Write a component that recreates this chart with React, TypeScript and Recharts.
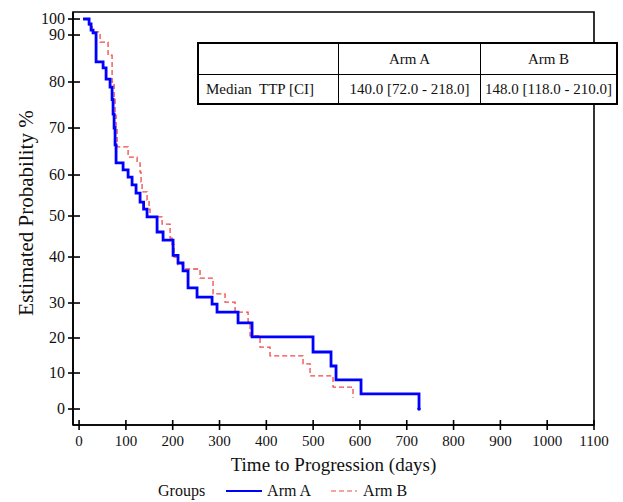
import { LineChart, Line, XAxis, YAxis, ReferenceArea, Label } from 'recharts'

// Kaplan-Meier steps: day of each drop and the probability after it
const armADays = [8.5, 21.4, 25.6, 29.9, 36.3, 51.3, 57.7, 66.2, 70.5, 72.6, 74.8, 76.9, 79.0, 94, 104.7, 113.2, 121.7, 130.3, 137.8, 145.2, 166.6, 179.4, 200.8, 211.4, 222.1, 232.8, 252.0, 284.1, 294.7, 339.6, 369.5, 499.8, 538.2, 548.9, 602.3, 726.2]
const armAProb = [100, 96.9, 93.1, 91.3, 84.3, 83.0, 80.6, 78.9, 76.2, 73.0, 70.0, 66.4, 62.6, 61.1, 59.5, 57.6, 55.6, 53.4, 51.7, 49.8, 46.1, 44.1, 40.4, 38.7, 37.0, 33.3, 31.3, 29.7, 27.4, 24.3, 20.3, 16.0, 12.0, 8.1, 4.2, 0]

const armBDays = [8.5, 21.4, 27.8, 44.9, 61.9, 70.5, 74.8, 76.9, 79.0, 81.2, 104.7, 123.9, 130.3, 132.4, 134.6, 145.2, 149.5, 151.6, 177.3, 194.4, 198.6, 202.9, 211.4, 222.1, 258.4, 286.2, 311.8, 333.2, 361, 365.2, 386.6, 407.9, 478.4, 493.4, 542.5, 585.2]
const armBProb = [100, 96.2, 91.9, 88.5, 85.7, 80.0, 76.2, 72.8, 70.0, 66.0, 63.8, 62.6, 60.6, 58.3, 55.9, 53.9, 51.7, 49.8, 48.0, 44.6, 43.0, 40.0, 38.3, 37.4, 35.4, 32.0, 30.2, 27.4, 24.6, 20.6, 17.4, 14.9, 12.6, 9.2, 6.1, 3.1]

const dayTicks = [0, 100, 200, 300, 400, 500, 600, 700, 800, 900, 1000, 1100]
const probTicks = [0, 10, 20, 30, 40, 50, 60, 70, 80, 90, 100]
// the original y axis is not linear; where each probability tick sits on it
const probAxisStops = [0, 9.23, 18.21, 27.18, 38.97, 49.49, 60.0, 72.05, 83.85, 95.9, 100]

const tableHeader = ['', 'Arm A', 'Arm B']
const tableRow = ['Median  TTP [CI]', '140.0 [72.0 - 218.0]', '148.0 [118.0 - 210.0]']

const xDomain: [number, number] = [-13, 1100]
const yDomain: [number, number] = [-4.1, 101.8]

function toAxis(p: number) {
  for (let i = 1; i < probTicks.length; i++) {
    if (p <= probTicks[i]) {
      const t = (p - probTicks[i - 1]) / (probTicks[i] - probTicks[i - 1])
      return probAxisStops[i - 1] + t * (probAxisStops[i] - probAxisStops[i - 1])
    }
  }
  return probAxisStops[probAxisStops.length - 1]
}

const armA = armADays.map((day, i) => ({ day, y: toAxis(armAProb[i]) }))
const armB = armBDays.map((day, i) => ({ day, y: toAxis(armBProb[i]) }))

const font = '"Liberation Serif", "Times New Roman", serif'

function YTick(props: any) {
  const { y, payload } = props
  const idx = probAxisStops.indexOf(payload.value)
  return (
    <g>
      <line x1={68} x2={80} y1={y} y2={y} stroke="#000" strokeWidth={1.6} />
      <text x={65} y={y} dy={5} textAnchor="end" fontSize={16} fill="#111" fontFamily={font}>
        {probTicks[idx]}
      </text>
    </g>
  )
}

function XTick(props: any) {
  const { x, payload } = props
  return (
    <g>
      <line x1={x} x2={x} y1={420} y2={430} stroke="#000" strokeWidth={1.6} />
      <text x={x} y={446} textAnchor="middle" fontSize={15} fill="#111" fontFamily={font}>
        {payload.value}
      </text>
    </g>
  )
}

function EndDot(props: any) {
  const { cx, cy, index } = props
  if (index !== armA.length - 1) return <g key={index} />
  return <circle key={index} cx={cx} cy={cy} r={1.8} fill="#0000ff" />
}

export default function App() {
  return (
    <div style={{ position: 'absolute', left: 0, top: 0, width: 623, height: 502, background: '#fff', fontFamily: font }}>
      <LineChart width={623} height={502} data={armA} margin={{ top: 12, right: 29, bottom: 27, left: 13 }}>
        <XAxis
          type="number"
          dataKey="day"
          domain={xDomain}
          ticks={dayTicks}
          interval={0}
          allowDataOverflow
          height={50}
          axisLine={{ stroke: '#000', strokeWidth: 1.6 }}
          tickLine={false}
          tick={<XTick />}
        >
          <Label value="Time to Progression (days)" position="insideBottom" offset={4} fontSize={19} fill="#111" fontFamily={font} />
        </XAxis>
        <YAxis
          type="number"
          domain={yDomain}
          ticks={probAxisStops}
          interval={0}
          allowDataOverflow
          width={60}
          axisLine={{ stroke: '#000', strokeWidth: 1.6 }}
          tickLine={false}
          tick={<YTick />}
        >
          <Label
            content={() => (
              <text x={33} y={213} transform="rotate(-90 33 213)" textAnchor="middle" fontSize={21} fill="#111" fontFamily={font}>
                Estimated Probability %
              </text>
            )}
          />
        </YAxis>
        <ReferenceArea x1={xDomain[0]} x2={xDomain[1]} y1={yDomain[0]} y2={yDomain[1]} fill="none" stroke="#000" strokeWidth={1.6} />
        <Line data={armB} dataKey="y" type="stepAfter" stroke="#f04848" strokeWidth={1.3} strokeDasharray="5 3" dot={false} isAnimationActive={false} />
        <Line data={armA} dataKey="y" type="stepAfter" stroke="#0000ff" strokeWidth={2.8} dot={<EndDot />} isAnimationActive={false} />
      </LineChart>

      <div style={{ position: 'absolute', left: 197, top: 42, width: 421, border: '2px solid #000', background: '#fff', boxSizing: 'border-box', fontFamily: font, color: '#111' }}>
        {[tableHeader, tableRow].map((row, r) => (
          <div key={r} style={{ display: 'flex', height: r === 0 ? 30 : 28, borderTop: r === 1 ? '1.5px solid #000' : 'none' }}>
            {row.map((t, c) => (
              <div
                key={c}
                style={{
                  width: c === 0 ? 140 : c === 1 ? 142 : 135,
                  borderRight: c < 2 ? '1.5px solid #000' : 'none',
                  height: '100%',
                  display: 'flex',
                  alignItems: 'center',
                  justifyContent: c === 0 ? 'flex-start' : 'center',
                  paddingLeft: c === 0 ? 7 : 0,
                  boxSizing: 'border-box',
                  fontSize: 15,
                  whiteSpace: 'pre',
                }}
              >
                {t}
              </div>
            ))}
          </div>
        ))}
      </div>

      <div style={{ position: 'absolute', left: 158, top: 482, display: 'flex', alignItems: 'center', fontSize: 16, color: '#111', fontFamily: font }}>
        <span style={{ marginRight: 21 }}>Groups</span>
        <svg width={36} height={10}>
          <line x1={0} x2={36} y1={5} y2={5} stroke="#0000ff" strokeWidth={2} />
        </svg>
        <span style={{ marginLeft: 5, marginRight: 20 }}>Arm A</span>
        <svg width={26} height={10}>
          <line x1={0} x2={26} y1={5} y2={5} stroke="#f04848" strokeWidth={1.2} strokeDasharray="5 3" />
        </svg>
        <span style={{ marginLeft: 6 }}>Arm B</span>
      </div>
    </div>
  )
}
